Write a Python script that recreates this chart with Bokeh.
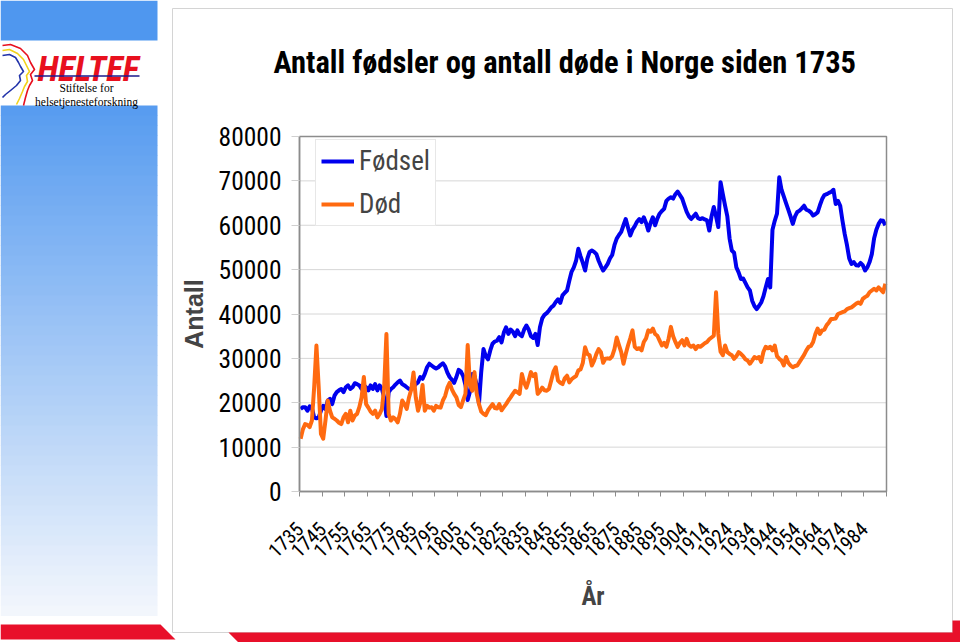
import math
from bokeh.plotting import figure
from bokeh.models import (Range1d, FixedTicker, PrintfTickFormatter, Legend, LegendItem,
                          LinearAxis, ColumnDataSource)
from bokeh.core.properties import value
from bokeh.embed import file_html
from bokeh.resources import INLINE

births = [
    18600, 19000, 19000, 18200, 19200, 18800, 16700, 16500, 16700, 18200,
    19300, 18600, 20500, 20900, 19700, 21600, 22400, 22800, 23100, 22400,
    23500, 23900, 23100, 23500, 24400, 24200, 23900, 23100, 23900, 23500,
    22800, 23900, 23100, 24200, 22800, 23900, 23100, 21200, 17000, 22400,
    23100, 23500, 24100, 24600, 25000, 24200, 23900, 23500, 23100, 23100,
    23500, 24200, 24600, 25800, 25400, 26500, 28000, 28800, 28400, 28000,
    27700, 28000, 28500, 28900, 28200, 26800, 25800, 25200, 24500, 25800,
    27400, 27000, 26000, 24000, 20600, 22500, 26500, 26000, 24000, 19800,
    27000, 32100, 30500, 29800, 31800, 33300, 33800, 34000, 34800, 33600,
    35800, 37000, 35500, 36500, 36000, 35000, 36300, 35400, 35000, 36500,
    37400, 36500, 35000, 34600, 35500, 33000, 37000, 39000, 39800, 40200,
    40800, 41500, 41900, 42700, 43300, 42500, 44200, 44800, 45300, 47500,
    49500, 50500, 52000, 54700, 53000, 51500, 49800, 52500, 54000, 54300,
    54000, 53500, 52000, 50800, 49800, 50500, 51300, 52500, 53300, 55500,
    57000, 57800, 58500, 60000, 61400, 59500, 57700, 59000, 59800, 60800,
    61400, 60700, 61800, 60500, 58800, 60500, 61800, 60000, 61500, 62600,
    63200, 63700, 65500, 66000, 66300, 66000, 67000, 67600, 66800, 66000,
    64500, 63000, 62000, 61400, 62000, 62600, 61600, 61400, 61600, 61300,
    61100, 58800, 62000, 64100, 62000, 59600, 69700, 67000, 64400, 62000,
    57000, 54300, 53800, 50500, 49400, 47900, 48000, 47000, 46000, 45300,
    43000, 41800, 41100, 41800, 42600, 44000, 46000, 47900, 46000, 59000,
    61000, 62600, 70800, 68000, 66500, 65000, 63500, 62000, 60300, 62000,
    63000, 63300, 63800, 64400, 63500, 63300, 62900, 62200, 62500, 62900,
    64500, 65900, 66800, 67000, 67300, 67500, 68000, 64800, 65500, 64400,
    61000, 58000, 55500, 52500, 51300, 51700, 51000, 50900, 51500, 51000,
    49800, 50500, 51700, 53500, 57000, 59000, 60300, 61100, 61000, 60000,
]
deaths = [
    11900, 14000, 15200, 15000, 14500, 16000, 23500, 32900, 23500, 13000,
    11900, 16000, 20500, 18200, 16700, 16400, 16000, 15500, 15200, 16700,
    17500, 15600, 18200, 16000, 17100, 17500, 19000, 21200, 25800, 19700,
    18900, 18000, 17500, 18200, 16700, 17500, 18600, 23500, 35500, 17500,
    16000, 16700, 16300, 15600, 17500, 20500, 19700, 18600, 21200, 23000,
    26800, 21200, 18200, 20000, 24000, 18200, 19300, 18900, 19000, 18200,
    19300, 19000, 18900, 20500, 21500, 23400, 24500, 23000, 22000, 21200,
    19500, 19000, 20600, 22000, 33000, 24000, 22700, 26900, 22000, 19700,
    18000, 17500, 17200, 18300, 19000, 19700, 18800, 18700, 19700, 18300,
    19000, 19700, 20500, 21200, 22000, 22700, 22400, 22000, 26500, 24500,
    23400, 25000, 26900, 26000, 26500, 22000, 22600, 23400, 22800, 22700,
    23100, 25000, 27000, 28000, 25000, 24500, 24200, 25500, 26100, 24600,
    25300, 25700, 26000, 27300, 27500, 29000, 32500, 31000, 30700, 28400,
    29500, 31000, 32100, 31400, 29000, 29900, 30000, 29900, 30500, 32100,
    34700, 33000, 31400, 28800, 31000, 32900, 34500, 36300, 32600, 32100,
    32300, 31800, 33700, 34500, 36300, 36000, 36700, 35500, 35100, 34000,
    32900, 33500, 32600, 34500, 37100, 35000, 33700, 32600, 33500, 34100,
    32900, 34400, 33000, 32600, 32900, 32100, 32800, 32600, 33000, 33400,
    33700, 34300, 34700, 35100, 44900, 35500, 31500, 30700, 32900, 31400,
    31000, 30700, 29900, 30500, 31400, 31000, 30500, 29800, 29500, 28800,
    29500, 30300, 30000, 30300, 29200, 31500, 32600, 32300, 32600, 31800,
    32900, 30500, 29900, 29500, 28400, 30300, 29000, 28400, 28000, 28300,
    28400, 29200, 30000, 30800, 31800, 32600, 32800, 33700, 35500, 36700,
    35500, 36300, 36500, 37500, 38100, 38900, 38900, 39000, 40000, 40200,
    40400, 40600, 41100, 41300, 41500, 41900, 42300, 42600, 42300, 43400,
    43800, 44100, 44900, 45300, 45700, 45300, 46000, 45500, 44900, 46800,
]
tick_labels = ["1735", "1745", "1755", "1765", "1775", "1785", "1795", "1805",
               "1815", "1825", "1835", "1845", "1855", "1865", "1875", "1885",
               "1895", "1904", "1914", "1924", "1934", "1944", "1954", "1964",
               "1974", "1984"]
label_step = 10
y_ticks = [0, 10000, 20000, 30000, 40000, 50000, 60000, 70000, 80000]
y_max = 80000
series_names = ["Fødsel", "Død"]

NARROW = "Roboto Condensed, DejaVu Sans Condensed, Liberation Sans, sans-serif"
BLUE = "#0000ee"
ORANGE = "#ff6a10"
GRAY = "#8c8c8c"

W, H = 960, 642
# pixel box of the chart's plotting area inside the page
PL, PR, PT, PB = 299, 886, 136, 491

n = len(births)
kx = n / (PR - PL)
ky = y_max / (PB - PT)

p = figure(width=W, height=H, output_backend="svg", toolbar_location=None,
           x_axis_type=None, y_axis_type=None,
           x_range=Range1d(0, W), y_range=Range1d(H, 0),
           min_border=0, min_border_left=0, min_border_right=0,
           min_border_top=0, min_border_bottom=0,
           background_fill_color="white", border_fill_color="white",
           outline_line_color=None)
p.extra_x_ranges = {"cx": Range1d(-PL * kx, n + (W - PR) * kx)}
p.extra_y_ranges = {"cy": Range1d(-(H - PB) * ky, y_max + PT * ky)}

# ---------------- page decorations (page pixel coordinates) ----------------
p.quad(left=[0], right=[157], top=[0], bottom=[40], fill_color="#4f97ef", line_color=None)
top_c = (88, 156, 240)
bot_c = (242, 246, 252)
y0, y1, steps = 105, 615, 51
bl, br, bt, bb, bc = [], [], [], [], []
for k in range(steps):
    f = k / (steps - 1)
    c = tuple(int(round(top_c[j] + (bot_c[j] - top_c[j]) * f)) for j in range(3))
    bl.append(0); br.append(157)
    bt.append(y0 + k * (y1 - y0) / steps); bb.append(y0 + (k + 1) * (y1 - y0) / steps + 0.6)
    bc.append("#%02x%02x%02x" % c)
p.quad(left=bl, right=br, top=bt, bottom=bb, fill_color=bc, line_color=None)
p.quad(left=[172], right=[952], top=[8], bottom=[632], fill_color=None,
       line_color="#d4d4d4", line_width=1)
p.patches(xs=[[0, 160, 175, 0], [228, 952, 952, 960, 960, 238]],
          ys=[[624, 624, 639, 639], [632, 632, 620, 620, 642, 642]],
          fill_color="#e8102a", line_color=None)
# logo
p.text(x=[37], y=[69], text=["HELTEF"], text_font=value(NARROW),
       text_font_style="bold italic", text_font_size="35px", text_color="#e8101e",
       text_baseline="alphabetic")
p.line(x=[34, 139], y=[75.5, 75.5], line_color="#1a1a8c", line_width=1.5)
p.text(x=[86, 86], y=[87, 101], text=["Stiftelse for", "helsetjenesteforskning"],
       text_font=value("Liberation Serif"), text_font_size="11.5px", text_align="center",
       text_baseline="alphabetic", text_color="black")
face = [("#e8101e", [2, 10, 20, 27, 30, 34, 30, 32, 29, 27, 25, 23],
         [45, 44, 48, 55, 62, 69, 74, 80, 85, 90, 97, 105]),
        ("#f2d21a", [2, 9, 17, 23, 26, 29, 26, 27, 24, 22, 19, 16],
         [50, 49, 53, 59, 65, 71, 75, 81, 86, 91, 98, 104]),
        ("#2233aa", [2, 9, 15, 18, 20, 23, 19, 20, 16, 10, 5, 2],
         [55, 54, 57, 62, 66, 71, 75, 80, 85, 90, 94, 97])]
for col, fx, fy in face:
    p.line(x=fx, y=fy, line_color=col, line_width=1.6, line_join="round")

# title
p.text(x=[273], y=[62], text=["Antall fødsler og antall døde i Norge siden 1735"],
       text_font=value(NARROW), text_font_style="bold", text_font_size="30.5px",
       text_color="black", text_baseline="alphabetic")

# ---------------- chart ----------------
p.segment(x0=[0] * len(y_ticks), x1=[n] * len(y_ticks), y0=y_ticks, y1=y_ticks,
          x_range_name="cx", y_range_name="cy", line_color="#d6d6d6", line_width=1)

src = ColumnDataSource(dict(x=[i + 0.5 for i in range(n)], births=births, deaths=deaths))
r1 = p.line("x", "births", source=src, line_color=BLUE, line_width=4, line_join="round",
            x_range_name="cx", y_range_name="cy")
r2 = p.line("x", "deaths", source=src, line_color=ORANGE, line_width=4, line_join="round",
            x_range_name="cx", y_range_name="cy")
p.quad(left=[0], right=[n], bottom=[0], top=[y_max], fill_color=None,
       line_color=GRAY, line_width=1.5, x_range_name="cx", y_range_name="cy")

xa = LinearAxis(x_range_name="cx", y_range_name="cy", fixed_location=0, bounds=(0, n))
xa.ticker = FixedTicker(ticks=list(range(0, n + 1, label_step)))
overrides = {k * label_step: lab for k, lab in enumerate(tick_labels)}
for t in range(0, n + 1, label_step):
    overrides.setdefault(t, "")
xa.major_label_overrides = overrides
xa.major_label_orientation = math.pi / 4
xa.major_label_text_font = NARROW
xa.major_label_text_font_size = "20px"
xa.major_label_text_color = "black"
xa.major_label_standoff = 29
xa.major_tick_out = 5
xa.major_tick_in = 0
xa.minor_tick_out = 0
xa.minor_tick_in = 0
xa.axis_line_color = GRAY
xa.axis_line_width = 1.5
xa.major_tick_line_color = GRAY
xa.axis_label = "År"
xa.axis_label_text_font = NARROW
xa.axis_label_text_font_style = "bold"
xa.axis_label_text_font_size = "25px"
xa.axis_label_standoff = 15
p.add_layout(xa, "below")

ya = LinearAxis(x_range_name="cx", y_range_name="cy", fixed_location=0, bounds=(0, y_max))
ya.ticker = FixedTicker(ticks=y_ticks)
ya.formatter = PrintfTickFormatter(format="%d")
ya.major_label_text_font = NARROW
ya.major_label_text_font_size = "25.5px"
ya.major_label_text_color = "black"
ya.major_label_standoff = 10
ya.major_tick_out = 8
ya.major_tick_in = 0
ya.minor_tick_out = 0
ya.minor_tick_in = 0
ya.axis_line_color = GRAY
ya.axis_line_width = 1.5
ya.major_tick_line_color = "#d0d0d0"
ya.axis_label = "Antall"
ya.axis_label_text_font = "Liberation Sans"
ya.axis_label_text_font_style = "bold"
ya.axis_label_text_font_size = "25px"
ya.axis_label_standoff = 8
p.add_layout(ya, "left")

legend = Legend(items=[LegendItem(label=series_names[0], renderers=[r1]),
                       LegendItem(label=series_names[1], renderers=[r2])],
                location=(315, 416), orientation="vertical",
                label_text_font=NARROW, label_text_font_size="27px",
                glyph_width=33, glyph_height=20, label_height=20, label_standoff=5,
                spacing=11, padding=5, margin=0,
                border_line_color="#d0d0d0", border_line_width=1,
                background_fill_color="white", background_fill_alpha=1.0)
p.add_layout(legend, "center")

open("out.html", "w").write(file_html(p, INLINE))
